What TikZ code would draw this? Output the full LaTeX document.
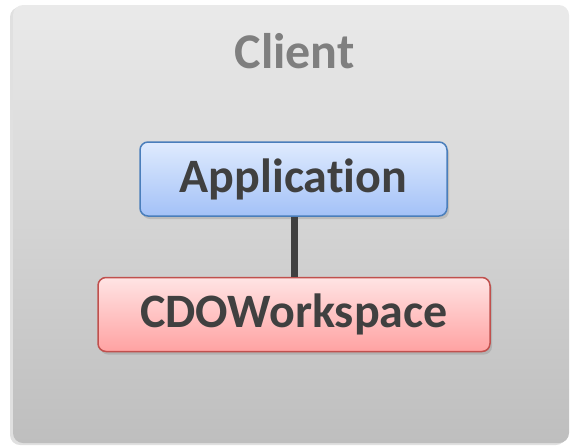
\documentclass[tikz,border=0pt]{standalone}
\usepackage{fontspec}
\setmainfont[Ligatures=NoCommon]{Carlito}
\usetikzlibrary{shadows}
\definecolor{textgray}{HTML}{404040}
\definecolor{titlegray}{HTML}{7F7F7F}
\definecolor{bgtop}{HTML}{EAEAEA}
\definecolor{bgbot}{HTML}{BEBEBE}
\definecolor{appline}{HTML}{4A7EBB}
\definecolor{apptop}{HTML}{DFEBFE}
\definecolor{appbot}{HTML}{A3C1F7}
\definecolor{cdoline}{HTML}{C0504D}
\definecolor{cdotop}{HTML}{FFE4E4}
\definecolor{cdobot}{HTML}{FFA2A2}
\begin{document}
\begin{tikzpicture}[x=1pt,y=-1pt,
		box/.style={rounded corners=8pt,line width=1.5pt,minimum height=74pt,inner sep=0pt,
			font=\bfseries\fontsize{48}{52}\selectfont,text=textgray,
			drop shadow={shadow xshift=2pt,shadow yshift=-3pt,opacity=.3}}]
				\useasboundingbox (0,0) rectangle (570,445);
				% client frame
				\fill[black!12,rounded corners=10pt] (10,7) rectangle (566,445);
				\shade[top color=bgtop,bottom color=bgbot,rounded corners=10pt] (13,5) rectangle (569,443);
				\node (client) at (294.5,68)[anchor=base,text=titlegray,font=\bfseries\fontsize{50}{54}\selectfont]{Client};
				% components
				\node (app) at (293.5,179)[box,draw=appline,top color=apptop,bottom color=appbot,minimum width=307pt]{Application};
				\node (cdo) at (294,314.5)[box,draw=cdoline,top color=cdotop,bottom color=cdobot,minimum width=392pt]{CDOWorkspace};
				\draw[textgray,line width=7pt] (app.south -| 294.5,0) -- (cdo.north -| 294.5,0);
			\end{tikzpicture}
\end{document}
